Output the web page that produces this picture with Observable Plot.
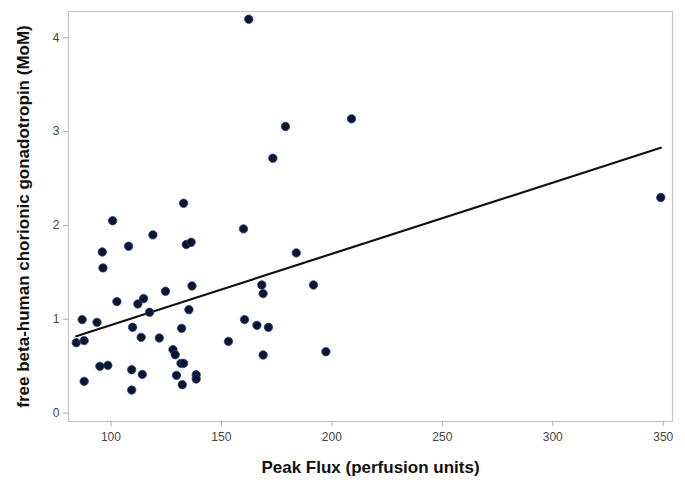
<!DOCTYPE html>
<html>
<head>
<meta charset="utf-8">
<script src="https://cdn.jsdelivr.net/npm/d3@7"></script>
<script src="https://cdn.jsdelivr.net/npm/@observablehq/plot@0.6"></script>
<style>
  html, body { margin: 0; padding: 0; background: #fff; }
  #chart svg { display: block; }
</style>
</head>
<body>
<div id="chart"></div>
<script>
const peakFlux = [
  132.9, 100.8, 160.0, 119.0, 134.1, 136.3, 108.0, 96.1, 183.9, 96.4,
  168.3, 191.7, 136.7, 124.7, 168.9, 114.8, 102.7, 112.2, 117.5, 135.3,
  87.0, 160.5, 93.7, 166.1, 171.3, 109.8, 132.0, 84.3, 87.9, 113.7,
  121.9, 153.2, 128.1, 129.1, 168.9, 197.3, 98.6, 95.0, 131.7, 132.9,
  109.4, 114.2, 129.7, 138.6, 138.6, 87.9, 132.3, 109.4,
  162.4, 179.0, 208.9, 173.3, 348.9
];
const fbhcg = [
  2.236, 2.05, 1.963, 1.899, 1.796, 1.82, 1.778, 1.717, 1.707, 1.547,
  1.365, 1.365, 1.355, 1.298, 1.273, 1.22, 1.188, 1.163, 1.074, 1.102,
  0.996, 0.996, 0.967, 0.935, 0.914, 0.914, 0.903, 0.75, 0.772, 0.807,
  0.80, 0.764, 0.676, 0.622, 0.619, 0.654, 0.508, 0.498, 0.53, 0.53,
  0.462, 0.412, 0.402, 0.409, 0.363, 0.338, 0.302, 0.245,
  4.198, 3.054, 3.136, 2.716, 2.297
];
const xTicks = [100, 150, 200, 250, 300, 350];
const yTicks = [0, 1, 2, 3, 4];
const xTitle = "Peak Flux (perfusion units)";
const yTitle = "free beta-human chorionic gonadotropin (MoM)";

const data = peakFlux.map((x, i) => ({x, y: fbhcg[i]}));

const font = "'Liberation Sans Narrow', 'Liberation Sans', Arial, sans-serif";

const chart = Plot.plot({
  width: 685,
  height: 483,
  marginLeft: 68,
  marginRight: 13,
  marginTop: 11,
  marginBottom: 62,
  style: {fontFamily: font, fontSize: "12px", color: "#333", background: "#fff"},
  x: {domain: [80.8, 354.2]},
  y: {domain: [-0.09, 4.28]},
  marks: [
    Plot.frame({stroke: "#c4c4c4", strokeWidth: 1.2}),
    Plot.axisX({ticks: xTicks, tickFormat: "d", tickSize: 5, tickPadding: 6, stroke: "#aaa", fill: "#444", fontSize: 12,
      label: xTitle, labelAnchor: "center", labelArrow: "none", labelOffset: 51}),
    Plot.axisY({ticks: yTicks, tickFormat: "d", tickSize: 5, tickPadding: 4, stroke: "#aaa", fill: "#444", fontSize: 12,
      label: yTitle, labelAnchor: "center", labelArrow: "none", labelOffset: 52}),
    Plot.linearRegressionY(data, {x: "x", y: "y", ci: 0, stroke: "#111", strokeWidth: 2.2}),
    Plot.dot(data, {x: "x", y: "y", r: 4.2, fill: "#0b1433", stroke: "#2a3f7a", strokeWidth: 0.8})
  ]
});

d3.select(chart).selectAll("g[aria-label='x-axis label'] text, g[aria-label='y-axis label'] text")
  .attr("font-weight", "bold").attr("font-size", "17px").attr("fill", "#111")
  .attr("font-family", "'Liberation Sans', Arial, sans-serif");

document.getElementById("chart").appendChild(chart);
</script>
</body>
</html>
